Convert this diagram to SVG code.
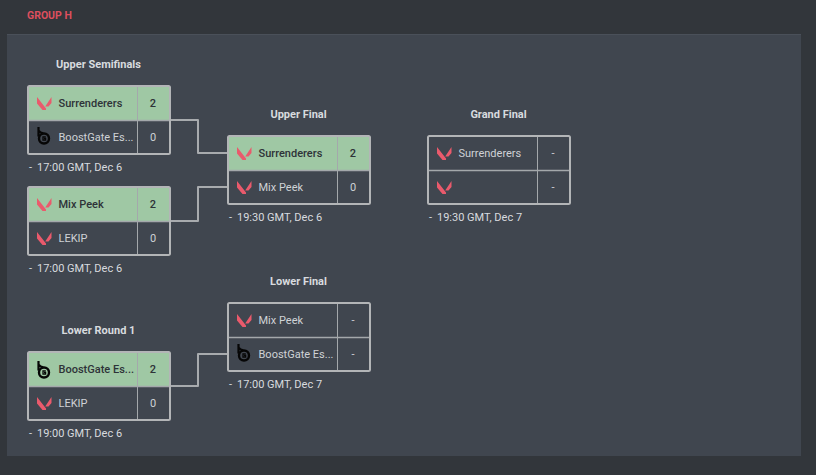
<svg xmlns="http://www.w3.org/2000/svg" width="816" height="475" viewBox="0 0 816 475">
<style>
text{font-family:Roboto,"Liberation Sans",sans-serif;font-size:11px}
.bg{fill:#32363b}
.panel{fill:#40464f}
.title{fill:#d8dbdf;font-weight:700;text-anchor:middle}
.time{fill:#d8dbdf}
.name{fill:#cfd2d6}
.score{fill:#cfd2d6;text-anchor:middle}
.win .name,.win .score{fill:#2e3338;font-weight:500}
.box{fill:none;stroke:#b3b5b7;stroke-width:2}
.hdiv{stroke:#a4a8ab;stroke-width:1.500}
.vdiv{stroke:#a4a8ab;stroke-width:1}
.w{fill:#9fc8a4}
.conn{fill:none;stroke:#a8abae;stroke-width:2;stroke-linejoin:round}
</style>
<defs>
<g id="val"><path fill="#ea5a6c" d="M0 0 9 11.500V13H5.500L0 6.500ZM14.500 0V6L11.500 9.500H8.200Z"/></g>
<g id="bst"><path fill="none" stroke="#060606" stroke-width="2.200" d="M1.500-1V8.500M1.500 2.500Q4 5.500 6.500 5"/><circle cx="7" cy="10.500" r="5" fill="none" stroke="#060606" stroke-width="2.400"/><path fill="none" stroke="#060606" stroke-width="1.300" d="M8.800 8.800H6V12.200H8.600V10.500H7"/></g>
<g id="box"><rect class="box" x="0" y="0" width="142" height="68" rx="1.500"/><path class="hdiv" d="M1 34.500H141"/><path class="vdiv" d="M109.500 1V67"/></g>
<g id="wbg"><rect class="w" x="1" y="1" width="140" height="33"/></g>
</defs>
<rect class="bg" width="816" height="475"/>
<rect class="panel" x="7" y="34" width="794" height="422"/>
<path d="M7 34.500H801" stroke="#4a5059" stroke-width="1"/>
<text x="27" y="19" fill="#dc4f5e" font-weight="700" style="font-size:10.500px">GROUP H</text>
<g id="connectors">
<path class="conn" d="M170 120H198V153H228"/>
<path class="conn" d="M170 221H198V187H228"/>
<path class="conn" d="M170 386H198V354H228"/>
</g>
<g id="upper-semi-1">
<text class="title" x="98.500" y="68">Upper Semifinals</text>
<g transform="translate(28 86)"><use href="#wbg"/><use href="#box"/></g>
<use href="#val" x="37" y="97"/><use href="#bst" x="37" y="128"/>
<g class="win"><text class="name" x="58.500" y="107">Surrenderers</text><text class="score" x="153" y="107">2</text></g>
<text class="name" x="58.500" y="141">BoostGate Es...</text><text class="score" x="153" y="141">0</text>
<text class="time" x="29" y="171">- </text><text class="time" x="37" y="171">17:00 GMT, Dec 6</text>
</g>
<g id="upper-semi-2">
<g transform="translate(28 187)"><use href="#wbg"/><use href="#box"/></g>
<use href="#val" x="37" y="198"/><use href="#val" x="37" y="232"/>
<g class="win"><text class="name" x="58.500" y="208">Mix Peek</text><text class="score" x="153" y="208">2</text></g>
<text class="name" x="58.500" y="242">LEKIP</text><text class="score" x="153" y="242">0</text>
<text class="time" x="29" y="272">- </text><text class="time" x="37" y="272">17:00 GMT, Dec 6</text>
</g>
<g id="upper-final">
<text class="title" x="298.500" y="118">Upper Final</text>
<g transform="translate(228 136)"><use href="#wbg"/><use href="#box"/></g>
<use href="#val" x="237" y="147"/><use href="#val" x="237" y="181"/>
<g class="win"><text class="name" x="258.500" y="157">Surrenderers</text><text class="score" x="353" y="157">2</text></g>
<text class="name" x="258.500" y="191">Mix Peek</text><text class="score" x="353" y="191">0</text>
<text class="time" x="229" y="221">- </text><text class="time" x="237" y="221">19:30 GMT, Dec 6</text>
</g>
<g id="grand-final">
<text class="title" x="498.500" y="118">Grand Final</text>
<use href="#box" x="428" y="136"/>
<use href="#val" x="437" y="147"/><use href="#val" x="437" y="181"/>
<text class="name" x="458.500" y="157">Surrenderers</text><text class="score" x="553" y="157">-</text>
<text class="score" x="553" y="191">-</text>
<text class="time" x="429" y="221">- </text><text class="time" x="437" y="221">19:30 GMT, Dec 7</text>
</g>
<g id="lower-final">
<text class="title" x="298.500" y="285">Lower Final</text>
<use href="#box" x="228" y="303"/>
<use href="#val" x="237" y="314"/><use href="#bst" x="237" y="345"/>
<text class="name" x="258.500" y="324">Mix Peek</text><text class="score" x="353" y="324">-</text>
<text class="name" x="258.500" y="358">BoostGate Es...</text><text class="score" x="353" y="358">-</text>
<text class="time" x="229" y="388">- </text><text class="time" x="237" y="388">17:00 GMT, Dec 7</text>
</g>
<g id="lower-round-1">
<text class="title" x="98.500" y="334">Lower Round 1</text>
<g transform="translate(28 352)"><use href="#wbg"/><use href="#box"/></g>
<use href="#bst" x="37" y="362"/><use href="#val" x="37" y="397"/>
<g class="win"><text class="name" x="58.500" y="373">BoostGate Es...</text><text class="score" x="153" y="373">2</text></g>
<text class="name" x="58.500" y="407">LEKIP</text><text class="score" x="153" y="407">0</text>
<text class="time" x="29" y="437">- </text><text class="time" x="37" y="437">19:00 GMT, Dec 6</text>
</g>
</svg>
